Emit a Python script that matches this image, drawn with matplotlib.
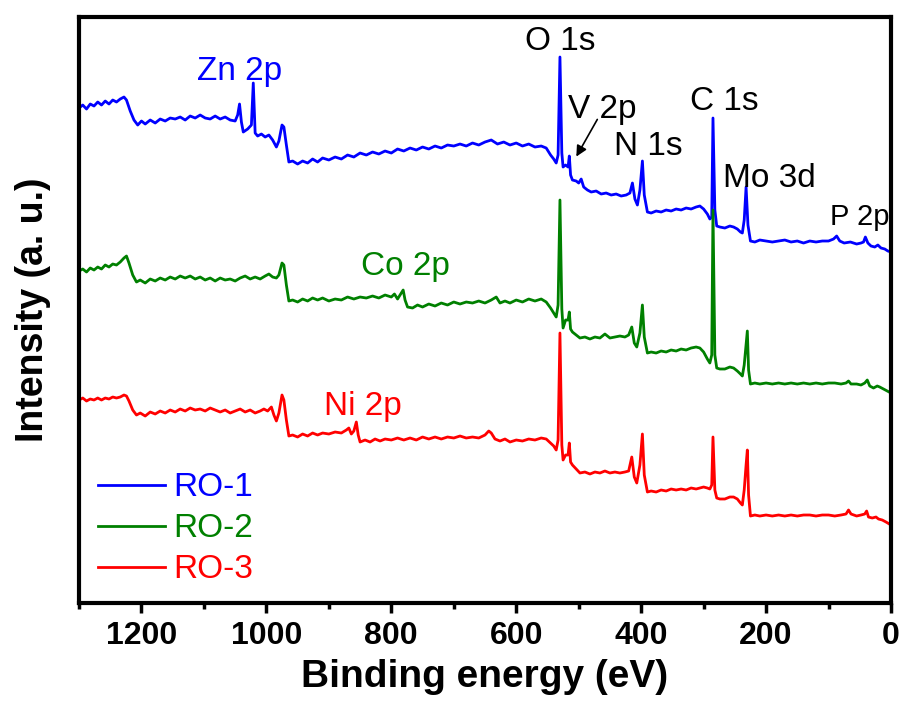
import numpy as np
import matplotlib.pyplot as plt
from matplotlib.ticker import MultipleLocator

plt.rcParams['font.family'] = ['Liberation Sans', 'DejaVu Sans']

# XPS survey spectra, binding energy (eV) vs intensity (a.u., offset per sample)
ro1_ev = [1300, 1294, 1288, 1282, 1276, 1270, 1264, 1258, 1252, 1246, 1240, 1234, 1228, 1224, 1218, 1212,
          1206, 1200, 1194, 1186, 1178, 1170, 1162, 1154, 1146, 1138, 1130, 1122, 1114, 1106, 1098, 1090,
          1082, 1074, 1066, 1058, 1050, 1046, 1043, 1040, 1037, 1030, 1024, 1021, 1018, 1014, 1008, 1002,
          996, 990, 984, 980, 975, 972, 968, 964, 958, 950, 942, 934, 926, 918, 910, 900, 890, 880, 870,
          860, 850, 840, 830, 820, 810, 800, 790, 780, 770, 760, 750, 740, 730, 720, 710, 700, 690, 680,
          670, 660, 650, 640, 630, 620, 610, 600, 590, 580, 570, 560, 552, 545, 540, 536, 533, 530, 527,
          525, 521, 517, 515, 513, 510, 504, 500, 496, 492, 486, 480, 472, 464, 456, 448, 440, 432, 424,
          418, 414, 410, 406, 402, 398, 395, 390, 384, 376, 368, 360, 352, 344, 336, 328, 320, 312, 306,
          300, 294, 290, 287, 285, 282, 279, 274, 266, 258, 252, 246, 241, 238, 235, 232, 229, 225, 218,
          210, 200, 190, 180, 170, 160, 150, 140, 130, 120, 110, 100, 92, 87, 82, 75, 65, 55, 48, 44, 41,
          37, 32, 26, 21, 16, 10, 5, 0]
ro1_int = [497, 500, 496, 501, 499, 503, 500, 504, 501, 505, 503, 506, 508, 505, 494, 485,
           480, 484, 481, 485, 482, 486, 484, 487, 486, 488, 485, 489, 487, 490, 487, 486,
           489, 486, 488, 485, 484, 490, 501, 483, 473, 476, 480, 522, 472, 469, 471, 468,
           470, 465, 458, 464, 480, 478, 460, 443, 444, 441, 444, 442, 446, 443, 447, 445, 448, 446, 450,
           448, 452, 450, 453, 451, 454, 452, 456, 454, 457, 455, 458, 456, 459, 457, 460, 459, 461, 459,
           462, 460, 463, 465, 461, 463, 460, 462, 459, 461, 458, 459, 457, 450, 446, 442, 450, 548, 452,
           438, 440, 438, 449, 430, 425, 424, 422, 426, 418, 415, 413, 414, 411, 412, 410, 411, 409, 410,
           412, 422, 406, 400, 415, 444, 410, 393, 392, 394, 393, 395, 394, 396, 395, 397, 396, 398, 399,
           396, 391, 386, 388, 487, 395, 379, 378, 377, 379, 378, 376, 373, 372, 385, 418, 380, 364, 363,
           365, 364, 363, 364, 365, 363, 364, 362, 364, 363, 364, 364, 366, 369, 364, 362, 363, 361, 362, 363, 368,
           362, 359, 358, 360, 357, 356, 354, 353]

ro2_ev = [1300, 1294, 1288, 1282, 1276, 1270, 1264, 1258, 1252, 1246, 1240, 1234, 1228, 1224, 1220, 1214,
          1208, 1202, 1194, 1186, 1178, 1170, 1162, 1154, 1146, 1138, 1130, 1122, 1114, 1106, 1098, 1090,
          1082, 1074, 1066, 1058, 1050, 1042, 1034, 1026, 1018, 1010, 1002, 996, 990, 984, 980, 975, 972,
          968, 964, 958, 950, 942, 934, 926, 918, 910, 900, 890, 880, 870, 860, 850, 840, 830, 820, 810,
          800, 795, 790, 786, 781, 778, 774, 766, 758, 750, 740, 730, 720, 710, 700, 690, 680, 670, 660,
          650, 640, 632, 626, 618, 610, 600, 590, 580, 570, 560, 552, 545, 540, 536, 533, 530, 527, 525,
          521, 517, 515, 513, 510, 504, 498, 490, 482, 474, 466, 458, 450, 442, 434, 426, 420, 415, 411,
          407, 402, 398, 395, 390, 384, 376, 368, 360, 352, 344, 336, 328, 320, 312, 306, 300, 294, 290,
          287, 285, 282, 279, 274, 266, 258, 252, 246, 241, 238, 235, 232, 230, 228, 225, 218, 210, 200,
          190, 180, 170, 160, 150, 140, 130, 120, 110, 100, 90, 80, 72, 68, 64, 55, 48, 42, 38, 34, 28,
          22, 18, 12, 6, 0]
ro2_int = [334, 336, 333, 337, 335, 338, 336, 340, 338, 341, 340, 343, 347, 349, 342, 330,
           323, 325, 322, 326, 324, 327, 325, 328, 326, 329, 327, 329, 326, 328, 325, 327,
           324, 327, 325, 326, 324, 327, 329, 326, 328, 326, 329, 331, 328, 327, 330, 342, 340,
           320, 304, 305, 303, 306, 304, 307, 305, 307, 304, 306, 305, 308, 306, 308, 307, 309, 307, 310,
           308, 311, 306, 310, 315, 305, 298, 297, 300, 298, 301, 299, 302, 300, 303, 301, 303, 302, 304,
           302, 305, 308, 302, 304, 302, 305, 303, 306, 304, 306, 303, 297, 292, 288, 300, 405, 296, 277,
           285, 285, 293, 276, 273, 270, 267, 268, 266, 268, 267, 271, 267, 268, 269, 268, 270, 278, 262,
           258, 272, 300, 268, 252, 253, 252, 254, 253, 255, 254, 256, 255, 257, 258, 257, 253, 246, 242,
           250, 395, 250, 237, 236, 236, 238, 237, 234, 231, 229, 240, 260, 274, 235, 221, 222, 221, 222,
           221, 222, 221, 222, 221, 222, 221, 222, 221, 222, 222, 221, 222, 224, 221, 221, 220, 222, 225, 219, 217,
           219, 218, 216, 214, 212]

ro3_ev = [1300, 1294, 1288, 1282, 1276, 1270, 1264, 1258, 1252, 1246, 1240, 1234, 1228, 1224, 1220, 1214,
          1208, 1202, 1194, 1186, 1178, 1170, 1162, 1154, 1146, 1138, 1130, 1122, 1114, 1106, 1098, 1090,
          1082, 1074, 1066, 1058, 1050, 1042, 1034, 1026, 1018, 1010, 1004, 998, 992, 988, 984, 980, 975,
          972, 968, 964, 958, 950, 942, 934, 926, 918, 910, 900, 890, 880, 872, 868, 864, 860, 856, 853,
          850, 842, 834, 826, 818, 810, 800, 790, 780, 770, 760, 750, 740, 730, 720, 710, 700, 690, 680,
          670, 660, 650, 644, 640, 634, 626, 618, 610, 600, 590, 580, 570, 560, 552, 545, 540, 536, 533,
          530, 527, 525, 521, 517, 515, 513, 510, 504, 498, 490, 482, 474, 466, 458, 450, 442, 434, 426,
          420, 415, 411, 407, 402, 398, 395, 390, 384, 376, 368, 360, 352, 344, 336, 328, 320, 312, 306,
          300, 294, 290, 287, 285, 282, 279, 274, 266, 258, 252, 246, 241, 238, 235, 232, 230, 228, 225,
          218, 210, 200, 190, 180, 170, 160, 150, 140, 130, 120, 110, 100, 90, 80, 72, 68, 64, 55, 48, 42,
          39, 36, 30, 24, 20, 14, 8, 0]
ro3_int = [205, 207, 204, 206, 205, 207, 205, 207, 206, 208, 207, 208, 210, 209, 204, 195,
           190, 192, 189, 193, 191, 194, 192, 195, 193, 196, 194, 197, 195, 196, 194, 197,
           195, 193, 195, 192, 194, 196, 193, 195, 192, 194, 196, 194, 198, 190, 184, 192, 210,
           205, 185, 169, 170, 168, 171, 169, 172, 170, 172, 171, 173, 172, 175, 177, 171, 174, 183, 170,
           163, 165, 163, 166, 164, 166, 165, 167, 165, 167, 165, 168, 166, 168, 166, 168, 167, 169, 167,
           168, 167, 170, 174, 172, 166, 164, 166, 163, 165, 164, 166, 165, 167, 166, 162, 159, 155, 165,
           272, 160, 145, 150, 150, 162, 143, 140, 136, 132, 133, 131, 133, 132, 134, 132, 133, 132, 133,
           134, 148, 128, 122, 140, 171, 130, 113, 114, 113, 115, 114, 116, 115, 116, 115, 117, 116, 117,
           118, 117, 116, 120, 168, 115, 107, 106, 106, 108, 108, 106, 102, 100, 115, 140, 155, 110, 89,
           90, 89, 90, 89, 90, 89, 90, 89, 90, 90, 89, 90, 90, 89, 90, 91, 95, 91, 89, 90, 91,
           94, 88, 87, 88, 86, 85, 83, 80]

samples = ['RO-1', 'RO-2', 'RO-3']
colors = ['#0000ff', '#008000', '#ff0000']

# peak labels: text, energy, baseline height, colour, size
peak_names = ['Zn 2p', 'O 1s', 'V 2p', 'C 1s', 'N 1s', 'Mo 3d', 'P 2p', 'Co 2p', 'Ni 2p']
peak_x = [1043, 530, 462, 267, 389, 195, 50, 778, 846]
peak_y = [525, 555, 487, 495, 450, 418, 380, 330, 190]
peak_colors = ['#0000ff', 'k', 'k', 'k', 'k', 'k', 'k', '#008000', '#ff0000']
peak_sizes = [24, 24, 24, 24, 24, 24, 21, 24, 24]

fig = plt.figure(figsize=(9.03, 7.09), dpi=100)
ax = fig.add_axes([0.0875, 0.1495, 0.8992, 0.8265])

for ev, inten, name, c in zip([ro1_ev, ro2_ev, ro3_ev], [ro1_int, ro2_int, ro3_int], samples, colors):
    ax.plot(np.array(ev), np.array(inten), color=c, lw=2.0, label=name)

for name, x, y, c, s in zip(peak_names, peak_x, peak_y, peak_colors, peak_sizes):
    ax.text(x, y, name, color=c, fontsize=s, ha='center', va='baseline')

# arrow pointing at the small V 2p peak
ax.annotate('', xy=(506, 446), xytext=(468, 488),
            arrowprops=dict(arrowstyle='-|>', color='k', lw=1.2, mutation_scale=16))

ax.set_xlim(1300, 0)
ax.set_ylim(2, 588)
ax.set_yticks([])
ax.xaxis.set_major_locator(MultipleLocator(200))
ax.xaxis.set_minor_locator(MultipleLocator(100))
ax.tick_params(axis='x', which='major', direction='out', length=7, width=2.5, labelsize=23, pad=6)
ax.tick_params(axis='x', which='minor', direction='out', length=4, width=2.5)
for lab in ax.get_xticklabels():
    lab.set_fontweight('bold')
for sp in ax.spines.values():
    sp.set_linewidth(3)

ax.set_xlabel('Binding energy (eV)', fontsize=28, fontweight='bold', labelpad=6)
ax.set_ylabel('Intensity (a. u.)', fontsize=27, fontweight='bold', labelpad=20)

leg = ax.legend(loc='lower left', bbox_to_anchor=(0.024, 0.03), frameon=False, fontsize=24,
                handlelength=2.0, handletextpad=0.25, labelspacing=0.3, borderpad=0,
                borderaxespad=0, labelcolor='linecolor')

plt.savefig('out.png', dpi=100)
